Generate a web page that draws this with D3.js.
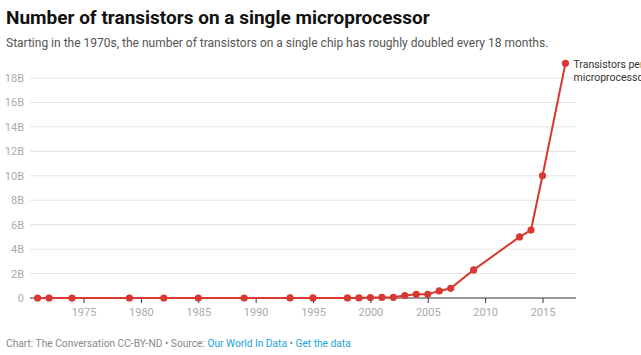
<!DOCTYPE html>
<html><head><meta charset="utf-8">
<script src="https://cdn.jsdelivr.net/npm/d3@7"></script>
<style>
body{margin:0;background:#fff;}
svg{display:block;font-family:Roboto,sans-serif;}
</style></head>
<body>
<svg id="c" width="641" height="355"></svg>
<script>
const years = [1971,1972,1974,1979,1982,1985,1989,1993,1995,1998,1999,2000,2001,2002,2003,2004,2005,2006,2007,2009,2013,2014,2015,2017];
const transistorsB = [0.0000023,0.0000035,0.000006,0.000029,0.000134,0.000275,0.0012,0.0031,0.0055,0.0075,0.0095,0.042,0.045,0.055,0.2,0.3,0.3,0.58,0.79,2.3,5.0,5.56,10.0,19.2];
const yTicks = [0,2,4,6,8,10,12,14,16,18];
const xTicks = [1975,1980,1985,1990,1995,2000,2005,2010,2015];
const title = "Number of transistors on a single microprocessor";
const subtitle = "Starting in the 1970s, the number of transistors on a single chip has roughly doubled every 18 months.";
const seriesLabel = ["Transistors per", "microprocessor"];

const svg = d3.select("#c");
const x = d3.scaleLinear().domain([1975,2015]).range([83.5,542.5]);
const y = d3.scaleLinear().domain([0,18]).range([298,78]);
const axisX0 = 30, axisX1 = 576;

svg.append("text").attr("x",6).attr("y",24).attr("font-size",19).attr("font-weight",700).attr("fill","#111").text(title);
svg.append("text").attr("x",6).attr("y",47).attr("font-size",12).attr("fill","#555").text(subtitle);

// grid
const g = svg.append("g");
g.selectAll("line.grid").data(yTicks.filter(d=>d>0)).join("line")
  .attr("x1",axisX0).attr("x2",axisX1).attr("y1",d=>y(d)).attr("y2",d=>y(d))
  .attr("stroke","#e4e4e4").attr("stroke-width",1);
g.selectAll("text.yl").data(yTicks).join("text")
  .attr("x",24).attr("y",d=>y(d)+4).attr("text-anchor","end")
  .attr("font-size",11).attr("fill","#aaa").text(d=>d===0?"0":d+"B");

// x axis
const xa = d3.axisBottom(x).tickValues(xTicks).tickFormat(d3.format("d")).tickSize(5).tickPadding(5);
const ax = svg.append("g").attr("transform",`translate(0,${y(0)})`).call(xa);
ax.select(".domain").remove();
ax.selectAll(".tick line").attr("stroke","#333");
ax.selectAll(".tick text").attr("font-size",11).attr("fill","#aaa").attr("font-family","Roboto,sans-serif");
svg.append("line").attr("x1",axisX0).attr("x2",axisX1).attr("y1",y(0)).attr("y2",y(0)).attr("stroke","#333").attr("stroke-width",1);

// line
const data = years.map((yr,i)=>({yr, v:transistorsB[i]}));
const red = "#d93731";
svg.append("path").datum(data)
  .attr("d",d3.line().x(d=>x(d.yr)).y(d=>y(d.v)))
  .attr("fill","none").attr("stroke",red).attr("stroke-width",2);
svg.selectAll("circle.pt").data(data).join("circle")
  .attr("cx",d=>x(d.yr)).attr("cy",d=>y(d.v)).attr("r",3.6).attr("fill",red);

// series label
const last = data[data.length-1];
svg.append("text").attr("x",x(last.yr)+8).attr("y",y(last.v)+5).attr("font-size",10.5).attr("fill","#333")
  .selectAll("tspan").data(seriesLabel).join("tspan").attr("x",x(last.yr)+8).attr("dy",(d,i)=>i?12.5:0).text(d=>d);

// footer
const f = svg.append("text").attr("x",6).attr("y",347).attr("font-size",10.2).attr("fill","#888");
f.append("tspan").text("Chart: The Conversation CC-BY-ND • Source: ");
f.append("tspan").attr("fill","#1ca3d9").text("Our World In Data");
f.append("tspan").text(" • ");
f.append("tspan").attr("fill","#1ca3d9").text("Get the data");
</script>
</body></html>
